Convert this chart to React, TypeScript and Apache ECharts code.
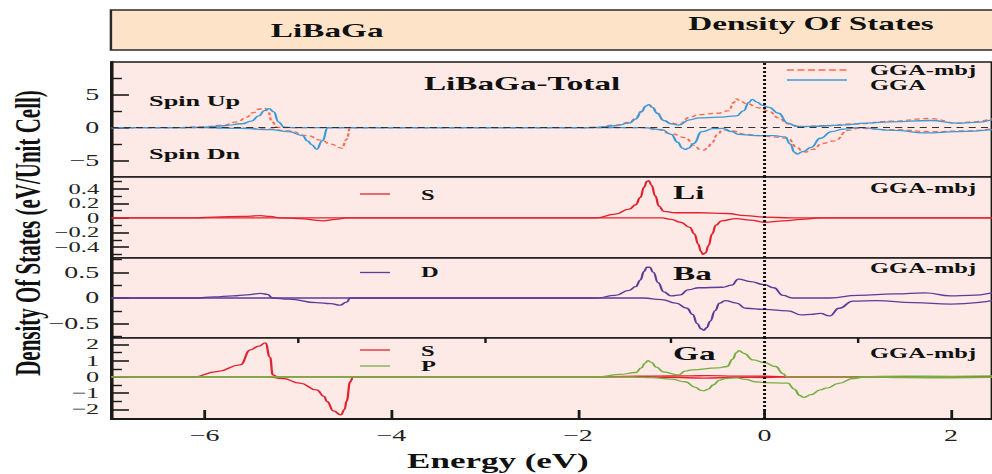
import { useEffect, useRef } from "react";
import * as echarts from "echarts";

// The figure is laid out on a narrow canvas and widened horizontally by CSS.
const INNER_W = 567;
const INNER_H = 474;
const STRETCH = 992 / INNER_W;
const FONT = "'Liberation Serif', 'Times New Roman', serif";

// Energy axis (eV)
const energyMin = -7;
const energyMax = 2.44;
const energyTicks = [-6, -4, -2, 0, 2];
const energyMinorTicks = [-5, -3, -1, 1];

// Panel y ranges, labelled ticks and minor ticks
const yRanges = [
  [-7.5, 10],
  [-0.55, 0.56],
  [-0.78, 0.78],
  [-2.6, 2.4],
];
const yLabelTicks = [
  [-5, 0, 5],
  [-0.4, -0.2, 0, 0.2, 0.4],
  [-0.5, 0, 0.5],
  [-2, -1, 0, 1, 2],
];
const yMinorTicks = [
  [-2.5, 2.5, 7.5],
  [-0.5, -0.3, -0.1, 0.1, 0.3, 0.5],
  [-0.75, -0.25, 0.25, 0.75],
  [-1.5, -0.5, 0.5, 1.5],
];
const yLabelSizes = [16, 14, 16, 15];

// Total DOS, GGA
const totalGgaUp = [
  [-7, 0], [-6.3, 0], [-6.0, 0.1], [-5.8, 0.3], [-5.6, 0.6], [-5.5, 1.0], [-5.42, 1.8],
  [-5.36, 2.6], [-5.31, 2.9], [-5.26, 2.4], [-5.21, 0.9], [-5.15, 0.1], [-5.05, 0],
  [-2.0, 0], [-1.8, 0.05], [-1.6, 0.3], [-1.45, 0.7], [-1.38, 1.3], [-1.32, 2.4],
  [-1.27, 3.3], [-1.24, 3.5], [-1.2, 3.1], [-1.15, 2.2], [-1.08, 1.1], [-1.0, 0.6],
  [-0.92, 0.4], [-0.8, 1.2], [-0.7, 1.5], [-0.5, 1.6], [-0.3, 1.8], [-0.22, 2.6],
  [-0.17, 3.8], [-0.13, 4.3], [-0.08, 3.9], [-0.02, 3.4], [0.05, 3.1], [0.15, 2.2],
  [0.25, 0.7], [0.35, 0.2], [0.5, 0.2], [0.82, 0.4], [1.1, 0.7], [1.36, 0.9],
  [1.78, 1.1], [2.07, 0.7], [2.25, 0.8], [2.44, 1.2],
];
const totalGgaDn = [
  [-7, 0], [-6.0, 0], [-5.6, -0.1], [-5.3, -0.3], [-5.1, -0.6], [-4.95, -1.2],
  [-4.9, -2.0], [-4.85, -2.6], [-4.8, -3.3], [-4.74, -2.0], [-4.68, 0], [-2, 0],
  [-1.3, 0], [-1.1, -0.3], [-1.0, -1.0], [-0.93, -2.2], [-0.88, -3.1], [-0.85, -3.3],
  [-0.81, -3.1], [-0.76, -2.4], [-0.67, -0.6], [-0.55, -0.15], [-0.45, -0.1],
  [-0.35, -0.6], [-0.28, -1.0], [-0.1, -1.2], [0.1, -1.2], [0.22, -1.4], [0.28, -2.5],
  [0.32, -3.7], [0.35, -4.0], [0.42, -3.6], [0.5, -3.0], [0.6, -1.6], [0.72, -0.6],
  [0.85, -0.2], [1.0, 0], [1.4, -0.4], [1.72, -0.8], [2.07, -0.6], [2.44, -0.3],
];

// Total DOS, GGA-mbj
const totalMbjUp = [
  [-7, 0], [-6.3, 0], [-6.0, 0.15], [-5.8, 0.4], [-5.65, 0.9], [-5.55, 1.6],
  [-5.48, 2.3], [-5.41, 2.85], [-5.36, 3.0], [-5.32, 2.5], [-5.28, 0.9], [-5.22, 0.05],
  [-5.1, 0], [-2, 0], [-1.8, 0.05], [-1.6, 0.4], [-1.45, 0.8], [-1.38, 1.4],
  [-1.32, 2.5], [-1.27, 3.3], [-1.24, 3.5], [-1.2, 3.1], [-1.15, 2.2], [-1.08, 1.1],
  [-1.0, 0.7], [-0.92, 0.5], [-0.8, 1.6], [-0.7, 2.0], [-0.5, 2.2], [-0.38, 2.6],
  [-0.33, 3.8], [-0.3, 4.4], [-0.25, 4.0], [-0.2, 3.7], [-0.05, 3.0], [0.05, 2.5],
  [0.15, 1.5], [0.25, 0.6], [0.4, 0.15], [0.6, 0.3], [1.0, 0.6], [1.36, 1.0],
  [1.78, 1.4], [2.07, 0.7], [2.25, 0.9], [2.44, 1.4],
];
const totalMbjDn = [
  [-7, 0], [-6.0, 0], [-5.6, -0.05], [-5.3, -0.2], [-5.1, -0.5], [-4.9, -1.2],
  [-4.75, -1.9], [-4.65, -2.5], [-4.53, -3.1], [-4.48, -1.8], [-4.44, 0], [-2, 0],
  [-1.3, 0], [-1.15, -0.3], [-1.0, -0.9], [-0.85, -1.5], [-0.75, -2.7], [-0.69, -3.3],
  [-0.65, -3.4], [-0.61, -3.1], [-0.57, -2.4], [-0.5, -1.0], [-0.45, -0.3],
  [-0.35, -0.5], [-0.2, -1.0], [-0.05, -1.2], [0.1, -1.4], [0.25, -1.6], [0.35, -3.0],
  [0.41, -3.6], [0.44, -3.7], [0.52, -3.3], [0.62, -2.4], [0.75, -2.0], [0.9, -0.4],
  [1.0, -0.1], [1.4, -0.3], [1.8, -0.6], [2.1, -0.5], [2.44, -0.2],
];

// Li s
const liSUp = [
  [-7, 0], [-6.1, 0], [-5.9, 0.01], [-5.6, 0.02], [-5.4, 0.03], [-5.3, 0.02],
  [-5.2, 0], [-1.8, 0], [-1.6, 0.05], [-1.45, 0.12], [-1.38, 0.18], [-1.33, 0.28],
  [-1.29, 0.42], [-1.26, 0.5], [-1.24, 0.51], [-1.21, 0.45], [-1.17, 0.3],
  [-1.13, 0.16], [-1.08, 0.09], [-0.95, 0.07], [-0.7, 0.07], [-0.4, 0.06],
  [-0.2, 0.03], [0, 0.01], [0.3, 0], [2.44, 0],
];
const liSDn = [
  [-7, 0], [-5.2, 0], [-5.0, -0.01], [-4.73, -0.04], [-4.6, -0.02], [-4.48, 0],
  [-1.1, 0], [-1.0, -0.02], [-0.9, -0.06], [-0.8, -0.13], [-0.75, -0.22],
  [-0.71, -0.36], [-0.68, -0.46], [-0.66, -0.5], [-0.63, -0.48], [-0.6, -0.38],
  [-0.56, -0.22], [-0.52, -0.1], [-0.46, -0.04], [-0.3, -0.01], [-0.15, -0.03],
  [0, -0.06], [0.2, -0.04], [0.4, -0.02], [0.6, 0], [2.44, 0],
];

// Ba d
const baDUp = [
  [-7, 0], [-6.1, 0], [-5.9, 0.02], [-5.7, 0.04], [-5.55, 0.06], [-5.4, 0.09],
  [-5.33, 0.07], [-5.27, 0], [-1.8, 0], [-1.6, 0.05], [-1.45, 0.15], [-1.38, 0.22],
  [-1.33, 0.35], [-1.29, 0.52], [-1.26, 0.6], [-1.23, 0.6], [-1.19, 0.5],
  [-1.14, 0.3], [-1.08, 0.12], [-1.0, 0.04], [-0.9, 0.06], [-0.82, 0.16],
  [-0.7, 0.2], [-0.45, 0.21], [-0.35, 0.25], [-0.28, 0.37], [-0.15, 0.32],
  [0, 0.26], [0.1, 0.2], [0.2, 0.05], [0.3, 0], [0.7, 0], [1.0, 0.05], [1.4, 0.08],
  [1.72, 0.1], [2.0, 0.04], [2.2, 0.05], [2.44, 0.1],
];
const baDDn = [
  [-7, 0], [-5.27, 0], [-5.1, -0.02], [-4.8, -0.09], [-4.65, -0.11], [-4.55, -0.14],
  [-4.48, -0.08], [-4.44, 0], [-1.3, 0], [-1.1, -0.03], [-0.95, -0.1], [-0.83, -0.2],
  [-0.77, -0.32], [-0.72, -0.5], [-0.68, -0.6], [-0.65, -0.63], [-0.62, -0.58],
  [-0.58, -0.45], [-0.53, -0.25], [-0.48, -0.1], [-0.42, -0.05], [-0.3, -0.1],
  [-0.2, -0.2], [0, -0.22], [0.25, -0.25], [0.4, -0.33], [0.5, -0.32], [0.6, -0.3],
  [0.7, -0.35], [0.8, -0.2], [0.95, -0.06], [1.2, -0.05], [1.6, -0.09], [2.0, -0.12],
  [2.44, -0.05],
];

// Ga s
const gaSUp = [
  [-7, 0], [-6.12, 0], [-5.87, 0.33], [-5.62, 0.74], [-5.51, 1.67], [-5.42, 1.9],
  [-5.35, 2.1], [-5.3, 1.2], [-5.27, 0.12], [-5.22, 0], [-1.8, 0], [-1.5, 0.03],
  [-1.2, 0.05], [-0.8, 0.06], [-0.6, 0.08], [-0.3, 0.05], [0, 0.04], [0.3, 0], [2.44, 0],
];
const gaSDn = [
  [-7, 0], [-5.33, 0], [-5.16, -0.1], [-4.98, -0.39], [-4.8, -0.8], [-4.72, -1.2],
  [-4.69, -1.52], [-4.62, -2.1], [-4.54, -2.35], [-4.5, -2.0], [-4.48, -1.5],
  [-4.44, -0.3], [-4.41, 0], [-1.5, 0], [-1.0, -0.03], [-0.65, -0.08], [-0.3, -0.03],
  [0, -0.04], [0.3, 0], [2.44, 0],
];

// Ga p
const gaPUp = [
  [-7, 0], [-1.77, 0], [-1.55, 0.15], [-1.38, 0.27], [-1.32, 0.55], [-1.28, 0.85],
  [-1.25, 1.0], [-1.21, 0.9], [-1.16, 0.6], [-1.08, 0.3], [-0.92, 0.12],
  [-0.85, 0.35], [-0.78, 0.43], [-0.5, 0.55], [-0.4, 0.64], [-0.34, 1.1],
  [-0.3, 1.5], [-0.27, 1.62], [-0.22, 1.45], [-0.12, 1.05], [0, 0.88], [0.12, 0.64],
  [0.2, 0.2], [0.24, 0], [1.0, 0], [1.5, 0.05], [2.0, 0.03], [2.44, 0.06],
];
const gaPDn = [
  [-7, 0], [-1.4, 0], [-1.2, -0.05], [-1.0, -0.14], [-0.85, -0.3], [-0.74, -0.65],
  [-0.68, -0.83], [-0.65, -0.86], [-0.6, -0.75], [-0.55, -0.5], [-0.48, -0.2],
  [-0.42, -0.1], [-0.3, -0.06], [-0.2, -0.15], [-0.1, -0.3], [0, -0.35],
  [0.25, -0.39], [0.32, -0.75], [0.38, -1.15], [0.42, -1.27], [0.5, -1.1],
  [0.6, -0.8], [0.66, -0.7], [0.8, -0.4], [0.95, -0.1], [1.1, 0], [1.5, -0.05],
  [2.0, -0.06], [2.44, -0.03],
];

const COLORS = {
  gga: "#3d9ad8",
  mbj: "#ff6a4c",
  li: "#e3222f",
  ba: "#5b3d9a",
  gaS: "#e3222f",
  gaP: "#76b041",
  ink: "#1a1a1a",
  panel: "#fde9e5",
  header: "#fde4c9",
};

const GRID_LEFT = 63.7;
const gridBoxes = [
  { top: 62, height: 115 },
  { top: 177, height: 81 },
  { top: 258, height: 80 },
  { top: 338, height: 81 },
];

const fmt = (v: number) => {
  const s = Math.abs(v) < 1e-9 ? "0" : String(Number(v.toFixed(2)));
  return s.replace("-", "\u2212");
};

function curve(
  name: string,
  data: number[][],
  gi: number,
  color: string,
  dashed = false,
  extra: any = {}
) {
  return {
    type: "line",
    name,
    data,
    xAxisIndex: gi,
    yAxisIndex: gi,
    showSymbol: false,
    symbol: "none",
    smooth: 0.5,
    smoothMonotone: "x",
    silent: true,
    lineStyle: { color, width: 1.3, type: dashed ? [3, 2] : "solid" },
    ...extra,
  };
}

function zeroMarks(withHorizontal: boolean) {
  const data: any[] = [{ xAxis: 0 }];
  if (withHorizontal) {
    data.push({ yAxis: 0, lineStyle: { type: [4, 3], width: 0.8, color: "#333" } });
  }
  return {
    markLine: {
      silent: true,
      symbol: "none",
      label: { show: false },
      lineStyle: { color: "#111", type: [2, 2], width: 1.7 },
      data,
      z: 10,
    },
  };
}

function label(text: string, x: number, y: number, size: number, align = "left", extra: any = {}) {
  return {
    type: "text",
    x,
    y,
    silent: true,
    z: 20,
    style: {
      text,
      fontFamily: FONT,
      fontSize: size,
      fontWeight: "bold",
      fill: "#111",
      align,
      verticalAlign: "middle",
    },
    ...extra,
  };
}

function legendLine(x1: number, x2: number, y: number, color: string, dashed = false) {
  return {
    type: "line",
    silent: true,
    z: 20,
    shape: { x1, y1: y, x2, y2: y },
    style: { stroke: color, lineWidth: 1.3, lineDash: dashed ? [4, 2] : null },
  };
}

export default function App() {
  const ref = useRef<HTMLDivElement>(null);

  useEffect(() => {
    if (!ref.current) return;
    const chart = echarts.init(ref.current, undefined, { renderer: "svg" });

    const grid = gridBoxes.map((b) => ({
      left: GRID_LEFT,
      right: -2,
      top: b.top,
      height: b.height,
      show: true,
      backgroundColor: COLORS.panel,
      borderColor: COLORS.ink,
      borderWidth: 1.6,
      containLabel: false,
    }));

    const xAxis: any[] = gridBoxes.map((_, i) => {
      const bottom = i === gridBoxes.length - 1;
      return {
        type: "value",
        gridIndex: i,
        min: energyMin,
        max: energyMax,
        show: bottom,
        splitLine: { show: false },
        axisLine: { show: bottom, onZero: false, lineStyle: { color: COLORS.ink, width: 1.8 } },
        axisTick: {
          show: bottom,
          inside: true,
          length: 9,
          customValues: energyTicks,
          lineStyle: { color: COLORS.ink, width: 1.6 },
        },
        axisLabel: {
          show: bottom,
          customValues: energyTicks,
          formatter: fmt,
          fontFamily: FONT,
          fontSize: 16,
          color: "#222",
          margin: 9,
          showMinLabel: true,
          showMaxLabel: true,
        },
      };
    });
    xAxis.push({
      type: "value",
      gridIndex: 3,
      min: energyMin,
      max: energyMax,
      splitLine: { show: false },
      axisLine: { show: false, onZero: false },
      axisTick: {
        show: true,
        inside: true,
        length: 5,
        customValues: energyMinorTicks,
        lineStyle: { color: COLORS.ink, width: 1.4 },
      },
      axisLabel: { show: false },
    });

    const yAxis: any[] = gridBoxes.map((_, i) => ({
      type: "value",
      gridIndex: i,
      min: yRanges[i][0],
      max: yRanges[i][1],
      position: "left",
      splitLine: { show: false },
      axisLine: { show: true, onZero: false, lineStyle: { color: COLORS.ink, width: 1.8 } },
      axisTick: {
        show: true,
        inside: true,
        length: 10,
        customValues: yLabelTicks[i],
        lineStyle: { color: COLORS.ink, width: 1.6 },
      },
      axisLabel: {
        customValues: yLabelTicks[i],
        formatter: fmt,
        fontFamily: FONT,
        fontSize: yLabelSizes[i],
        lineHeight: yLabelSizes[i] - 2,
        color: "#222",
        margin: 7,
        showMinLabel: true,
        showMaxLabel: true,
      },
    }));
    gridBoxes.forEach((_, i) => {
      yAxis.push({
        type: "value",
        gridIndex: i,
        min: yRanges[i][0],
        max: yRanges[i][1],
        position: "left",
        offset: 0,
        splitLine: { show: false },
        axisLine: { show: false, onZero: false },
        axisTick: {
          show: true,
          inside: true,
          length: 6,
          customValues: yMinorTicks[i],
          lineStyle: { color: COLORS.ink, width: 1.4 },
        },
        axisLabel: { show: false },
      });
    });

    const series = [
      curve("GGA-mbj", totalMbjUp, 0, COLORS.mbj, true, zeroMarks(true)),
      curve("GGA-mbj", totalMbjDn, 0, COLORS.mbj, true),
      curve("GGA", totalGgaUp, 0, COLORS.gga),
      curve("GGA", totalGgaDn, 0, COLORS.gga),
      curve("Li S", liSUp, 1, COLORS.li, false, zeroMarks(false)),
      curve("Li S", liSDn, 1, COLORS.li),
      curve("Ba D", baDUp, 2, COLORS.ba, false, zeroMarks(false)),
      curve("Ba D", baDDn, 2, COLORS.ba),
      curve("Ga S", gaSUp, 3, COLORS.gaS, false, zeroMarks(false)),
      curve("Ga S", gaSDn, 3, COLORS.gaS),
      curve("Ga P", gaPUp, 3, COLORS.gaP),
      curve("Ga P", gaPDn, 3, COLORS.gaP),
    ];

    const graphic: any[] = [
      // title banner
      {
        type: "rect",
        silent: true,
        z: 5,
        shape: { x: 63.4, y: 10, width: 520, height: 40 },
        style: { fill: COLORS.header, stroke: "#2a2a2a", lineWidth: 1.4 },
      },
      label("LiBaGa", 187, 31, 19, "center"),
      label("Density Of States", 463.5, 24, 19, "center"),
      // total panel
      label("LiBaGa-Total", 242.3, 84, 19),
      label("Spin Up", 85.2, 101, 15),
      label("Spin Dn", 85.2, 154, 15),
      legendLine(449.8, 484.1, 70, COLORS.mbj, true),
      legendLine(449.8, 484.1, 80, COLORS.gga),
      label("GGA-mbj", 497.3, 70, 14),
      label("GGA", 497.3, 85, 14),
      // Li panel
      legendLine(205.8, 222.9, 194, COLORS.li),
      label("S", 240.6, 195, 14),
      label("Li", 384.7, 193, 19),
      label("GGA-mbj", 497.3, 188, 14),
      // Ba panel
      legendLine(205.8, 222.9, 272.5, COLORS.ba),
      label("D", 240.6, 272, 14),
      label("Ba", 384.7, 274, 19),
      label("GGA-mbj", 497.3, 268, 14),
      // Ga panel
      legendLine(205.8, 222.9, 350, COLORS.gaS),
      legendLine(205.8, 222.9, 366, COLORS.gaP),
      label("S", 240.6, 351, 14),
      label("P", 240.6, 366, 14),
      label("Ga", 384.7, 354, 19),
      label("GGA-mbj", 497.3, 353, 14),
      // axis titles
      label("Energy (eV)", 284.6, 461, 20, "center"),
      label("Density Of States (eV/Unit Cell)", 15.4, 233, 21, "center", {
        rotation: Math.PI / 2,
      }),
    ];

    chart.setOption({
      animation: false,
      backgroundColor: "#ffffff",
      textStyle: { fontFamily: FONT },
      grid,
      xAxis,
      yAxis,
      series,
      graphic,
    });

    return () => chart.dispose();
  }, []);

  return (
    <div
      style={{
        position: "absolute",
        left: 0,
        top: 0,
        width: 992,
        height: 474,
        overflow: "hidden",
        background: "#fff",
      }}
    >
      <div
        ref={ref}
        style={{
          width: INNER_W,
          height: INNER_H,
          transform: `scaleX(${STRETCH})`,
          transformOrigin: "0 0",
        }}
      />
    </div>
  );
}
